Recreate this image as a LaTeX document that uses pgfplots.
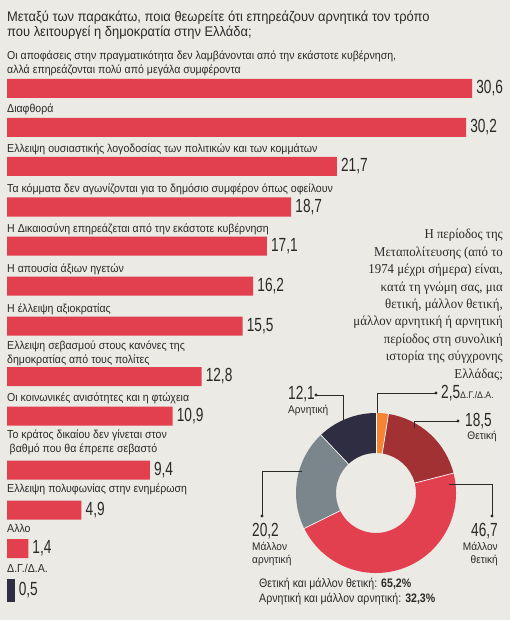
\documentclass[border=0pt]{standalone}
\usepackage{pgfplots}
\usepackage{pgfplotstable}
\pgfplotsset{compat=1.18}
\usepackage{fontspec}
\setmainfont{Liberation Sans}
\newfontfamily\labelfont[FakeStretch=0.92]{Liberation Sans}
\newfontfamily\sumfont[FakeStretch=0.86]{Liberation Sans}
\newfontfamily\numfont[FakeStretch=0.72]{Liberation Sans}
\newfontfamily\titlefont[FakeStretch=0.93]{Liberation Sans}
\newfontfamily\qfont[FakeStretch=0.95]{Liberation Serif}

\definecolor{bg}{HTML}{ECEAE5}
\definecolor{txt}{HTML}{2B2A29}
\definecolor{barred}{HTML}{E23F4F}
\definecolor{navy}{HTML}{2F2D42}
\definecolor{darkred}{HTML}{A23134}
\definecolor{slate}{HTML}{7A868C}
\definecolor{amber}{HTML}{F58433}

% bar values; y is the row position of each bar (top = 0)
\pgfplotstableread{
y     v
88.5  30.6
127.5 30.2
166.5 21.7
207   18.7
246   17.1
286   16.2
326   15.5
376.5 12.8
416   10.9
470   9.4
510   4.9
548.5 1.4
}\mainbars

\begin{document}
\begin{tikzpicture}
\useasboundingbox (0,0) rectangle (510pt,620pt);
\fill[bg] (0,0) rectangle (510pt,620pt);

% donut: share of answers, clockwise from the top
\begin{axis}[at={(0,0)},anchor=south west,width=510pt,height=620pt,scale only axis,
  xmin=0,xmax=510,ymin=0,ymax=620,y dir=reverse,hide axis,clip=false]
\pgfplotsextra{
  \xdef\acc{0}
  \foreach \v/\c in {2.5/amber,18.5/darkred,46.7/barred,20.2/slate,12.1/navy}{
    \pgfmathsetmacro\a{90-3.6*\acc}
    \pgfmathsetmacro\b{90-3.6*(\acc+\v)}
    \fill[\c] ([shift={(\a:80pt)}]axis cs:376,493) arc[start angle=\a,end angle=\b,radius=80pt]
      -- ([shift={(\b:40pt)}]axis cs:376,493) arc[start angle=\b,end angle=\a,radius=40pt] -- cycle;
    \pgfmathsetmacro\t{\acc+\v}
    \xdef\acc{\t}
  }
  \foreach \s in {0,2.5,21,67.7,87.9}{
    \pgfmathsetmacro\a{90-3.6*\s}
    \draw[white,line width=0.7pt] ([shift={(\a:39pt)}]axis cs:376,493) -- ([shift={(\a:81pt)}]axis cs:376,493);
  }
}
\end{axis}

% horizontal bars
\begin{axis}[at={(0,0)},anchor=south west,width=510pt,height=620pt,scale only axis,
  xmin=-0.4605,xmax=33.092,ymin=0,ymax=620,y dir=reverse,hide axis,clip=false,
  point meta=x,
  nodes near coords={\pgfmathprintnumber[use comma,fixed,fixed zerofill,precision=1,assume math mode=true]{\pgfplotspointmeta}},
  every node near coord/.append style={font=\numfont\fontsize{19}{19}\selectfont,text=txt,anchor=west,xshift=3pt,inner sep=1pt}]
\addplot[xbar,bar shift=0pt,bar width=19,fill=barred,draw=none] table[x=v,y=y]{\mainbars};
\addplot[xbar,bar shift=0pt,bar width=23,fill=navy,draw=none] coordinates {(0.5,590.5)};
\end{axis}

\begin{scope}[shift={(0,620pt)},x=1pt,y=-1pt]
% title
\begin{scope}[every node/.style={anchor=base west,inner sep=0pt,text=txt,font=\titlefont\fontsize{13.9}{13.9}\selectfont}]
\node at (7,21.5) {Μεταξύ των παρακάτω, ποια θεωρείτε ότι επηρεάζουν αρνητικά τον τρόπο};
\node at (7,37) {που λειτουργεί η δημοκρατία στην Ελλάδα;};
\end{scope}
% bar captions
\begin{scope}[every node/.style={anchor=base west,inner sep=0pt,text=txt,font=\labelfont\fontsize{11.5}{11.5}\selectfont}]
\node at (7,59.5) {Οι αποφάσεις στην πραγματικότητα δεν λαμβάνονται από την εκάστοτε κυβέρνηση,};
\node at (7,74) {αλλά επηρεάζονται πολύ από μεγάλα συμφέροντα};
\node at (7,112.7) {Διαφθορά};
\node at (7,152.7) {Ελλειψη ουσιαστικής λογοδοσίας των πολιτικών και των κομμάτων};
\node at (7,192.7) {Τα κόμματα δεν αγωνίζονται για το δημόσιο συμφέρον όπως οφείλουν};
\node at (7,232.7) {Η Δικαιοσύνη επηρεάζεται από την εκάστοτε κυβέρνηση};
\node at (7,272.5) {Η απουσία άξιων ηγετών};
\node at (7,312.5) {Η έλλειψη αξιοκρατίας};
\node at (7,349.5) {Ελλειψη σεβασμού στους κανόνες της};
\node at (7,363.5) {δημοκρατίας από τους πολίτες};
\node at (7,402) {Οι κοινωνικές ανισότητες και η φτώχεια};
\node at (7,439) {Το κράτος δικαίου δεν γίνεται στον};
\node at (9.5,453) {βαθμό που θα έπρεπε σεβαστό};
\node at (7,493) {Ελλειψη πολυφωνίας στην ενημέρωση};
\node at (7,532.7) {Αλλο};
\node at (7,572.7) {Δ.Γ./Δ.Α.};
\end{scope}
% question beside the donut
\begin{scope}[every node/.style={anchor=base east,inner sep=0pt,text=txt,font=\qfont\fontsize{13.5}{13.5}\selectfont}]
\node at (503,239) {Η περίοδος της};
\node at (503,256.4) {Μεταπολίτευσης (από το};
\node at (503,273.8) {1974 μέχρι σήμερα) είναι,};
\node at (503,291.2) {κατά τη γνώμη σας, μια};
\node at (503,308.6) {θετική, μάλλον θετική,};
\node at (503,326) {μάλλον αρνητική ή αρνητική};
\node at (503,343.4) {περίοδος στη συνολική};
\node at (503,360.8) {ιστορία της σύγχρονης};
\node at (503,378.2) {Ελλάδας;};
\end{scope}
% donut callouts
\begin{scope}[draw=txt,line width=0.6pt]
\draw (316,395) -- (343,395) -- (343,420);
\draw (436,393) -- (377,393) -- (377,413);
\draw (458,421) -- (414,421) -- (414,428);
\draw (492,516) -- (492,484) -- (449,484);
\draw (262,516) -- (262,471) -- (302,471);
\fill[txt] (316,395) circle (1.7);
\fill[txt] (436,393) circle (1.7);
\fill[txt] (458,421) circle (1.7);
\fill[txt] (492,516) circle (1.7);
\fill[txt] (262,516) circle (1.7);
\end{scope}
\begin{scope}[every node/.style={inner sep=0pt,text=txt}]
\node[anchor=base west,font=\numfont\fontsize{19}{19}\selectfont] at (288,399.5) {12,1};
\node[anchor=base west,font=\labelfont\fontsize{11}{11}\selectfont] at (288,413.5) {Αρνητική};
\node[anchor=base west,font=\numfont\fontsize{19}{19}\selectfont] at (441,399) {2,5};
\node[anchor=base west,font=\labelfont\fontsize{9.5}{9.5}\selectfont] at (460,399) {Δ.Γ./Δ.Α.};
\node[anchor=base west,font=\numfont\fontsize{19}{19}\selectfont] at (465,426.5) {18,5};
\node[anchor=base east,font=\labelfont\fontsize{11}{11}\selectfont] at (497,440) {Θετική};
\node[anchor=base east,font=\numfont\fontsize{19}{19}\selectfont] at (498,537) {46,7};
\node[anchor=base east,font=\labelfont\fontsize{11}{11}\selectfont] at (498,551) {Μάλλον};
\node[anchor=base east,font=\labelfont\fontsize{11}{11}\selectfont] at (498,564) {θετική};
\node[anchor=base west,font=\numfont\fontsize{19}{19}\selectfont] at (252,537) {20,2};
\node[anchor=base west,font=\labelfont\fontsize{11}{11}\selectfont] at (252,551) {Μάλλον};
\node[anchor=base west,font=\labelfont\fontsize{11}{11}\selectfont] at (252,564) {αρνητική};
\node[anchor=base west,font=\sumfont\fontsize{12.3}{12.3}\selectfont] at (259,588) {Θετική και μάλλον θετική: \textbf{65,2\%}};
\node[anchor=base west,font=\sumfont\fontsize{12.3}{12.3}\selectfont] at (259,603) {Αρνητική και μάλλον αρνητική: \textbf{32,3\%}};
\end{scope}
\end{scope}
\end{tikzpicture}
\end{document}
